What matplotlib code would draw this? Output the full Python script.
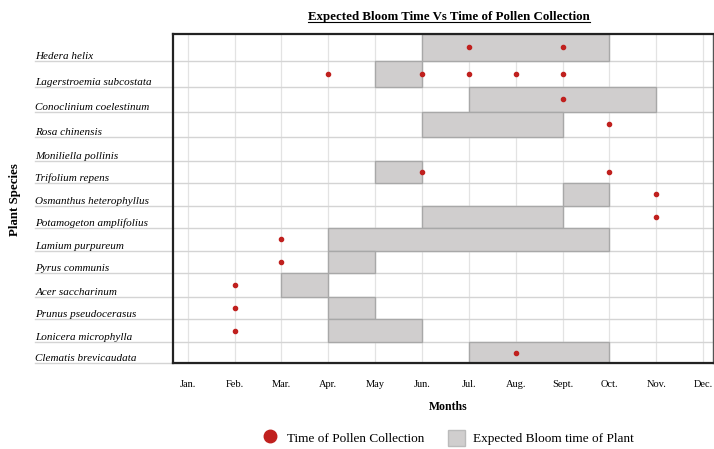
import matplotlib
matplotlib.use("Agg")
import matplotlib.pyplot as plt
from matplotlib.lines import Line2D
from matplotlib.patches import Patch
import numpy as np

plt.rcParams["font.family"] = ["Liberation Serif", "DejaVu Serif"]

# months on x axis
months = ["Jan.", "Feb.", "Mar.", "Apr.", "May", "Jun.", "Jul.", "Aug.", "Sept.", "Oct.", "Nov.", "Dec."]
month_pos = np.arange(1, 13)

species = ["Hedera helix", "Lagerstroemia subcostata", "Conoclinium coelestinum", "Rosa chinensis",
           "Moniliella pollinis", "Trifolium repens", "Osmanthus heterophyllus", "Potamogeton amplifolius",
           "Lamium purpureum", "Pyrus communis", "Acer saccharinum", "Prunus pseudocerasus",
           "Lonicera microphylla", "Clematis brevicaudata"]

# expected bloom time (start month, end month), None = no bloom bar
bloom_start = [6, 5, 7, 6, None, 5, 9, 6, 4, 4, 3, 4, 4, 7]
bloom_end = [10, 6, 11, 9, None, 6, 10, 9, 10, 5, 4, 5, 6, 10]

# time of pollen collection, per species
pollen = [[7, 9], [4, 6, 7, 8, 9], [9], [10], [], [6, 10], [11], [11],
          [3], [3], [2], [2], [2], [8]]

# layout: row boundaries (the rows of the original table are not all the same height)
row_edges = np.array([0, 27, 53, 78, 103, 127, 149, 172, 194, 217, 239, 263, 285, 308, 329])
row_mid = (row_edges[:-1] + row_edges[1:]) / 2
row_h = np.diff(row_edges)

bar_color = "#d0cece"
bar_edge = "#a8a8a8"
dot_color = "#c0201e"

fig = plt.figure(figsize=(7.14, 4.49), dpi=100)
ax = fig.add_axes([0.242, 0.1915, 0.756, 0.733])

# vertical month gridlines
for m in month_pos:
    ax.axvline(m, color="#e3e3e3", lw=0.9, zorder=0)

# row separators, extended into the label column
for y in row_edges[1:]:
    ax.plot([-0.256, 1.0], [y, y], color="#d4d4d4", lw=1.0,
            transform=ax.get_yaxis_transform(), clip_on=False, zorder=1)

# bloom bars
for y, h, s, e in zip(row_mid, row_h, bloom_start, bloom_end):
    if s is None:
        continue
    ax.barh(y, e - s, left=s, height=h, color=bar_color, edgecolor=bar_edge, lw=1.0, zorder=2)

# pollen collection dots
for y, pts in zip(row_mid, pollen):
    if pts:
        ax.plot(pts, [y] * len(pts), "o", color=dot_color, markersize=3.0, zorder=3)

ax.set_xlim(0.68, 12.2)
ax.set_ylim(row_edges[-1], row_edges[0])

ax.set_xticks(month_pos)
ax.set_xticklabels(months, fontsize=7.5)
ax.set_yticks(row_edges[1:])
ax.set_yticklabels(species, fontsize=8, style="italic")
for lab in ax.get_yticklabels():
    lab.set_horizontalalignment("left")
    lab.set_verticalalignment("bottom")
ax.tick_params(axis="y", length=0, pad=99)
ax.tick_params(axis="x", length=0, pad=12)

for side in ["left", "top", "bottom"]:
    ax.spines[side].set_linewidth(1.6)
    ax.spines[side].set_color("#222222")
ax.spines["right"].set_linewidth(1.0)
ax.spines["right"].set_color("#555555")

fig.text(0.627, 0.094, "Months", ha="center", va="center", fontsize=8.5, fontweight="bold")
fig.text(0.021, 0.555, "Plant Species", ha="center", va="center", rotation=90, fontsize=9.3, fontweight="bold")

title = fig.text(0.629, 0.963, "Expected Bloom Time Vs Time of Pollen Collection",
                 ha="center", va="center", fontsize=9.3, fontweight="bold")
fig.canvas.draw()
bb = title.get_window_extent().transformed(fig.transFigure.inverted())
fig.add_artist(Line2D([bb.x0, bb.x1], [bb.y0 + 0.002, bb.y0 + 0.002], color="black", lw=0.8))

handles = [Line2D([], [], marker="o", color=dot_color, linestyle="none", markersize=9),
           Patch(facecolor=bar_color, edgecolor="#bbbbbb")]
fig.legend(handles, ["Time of Pollen Collection", "Expected Bloom time of Plant"],
           loc="center", bbox_to_anchor=(0.627, 0.025), ncol=2, frameon=False,
           fontsize=9.5, handlelength=1.3, handleheight=1.5, handletextpad=0.6, columnspacing=1.8)

fig.savefig("out.png", dpi=100)
